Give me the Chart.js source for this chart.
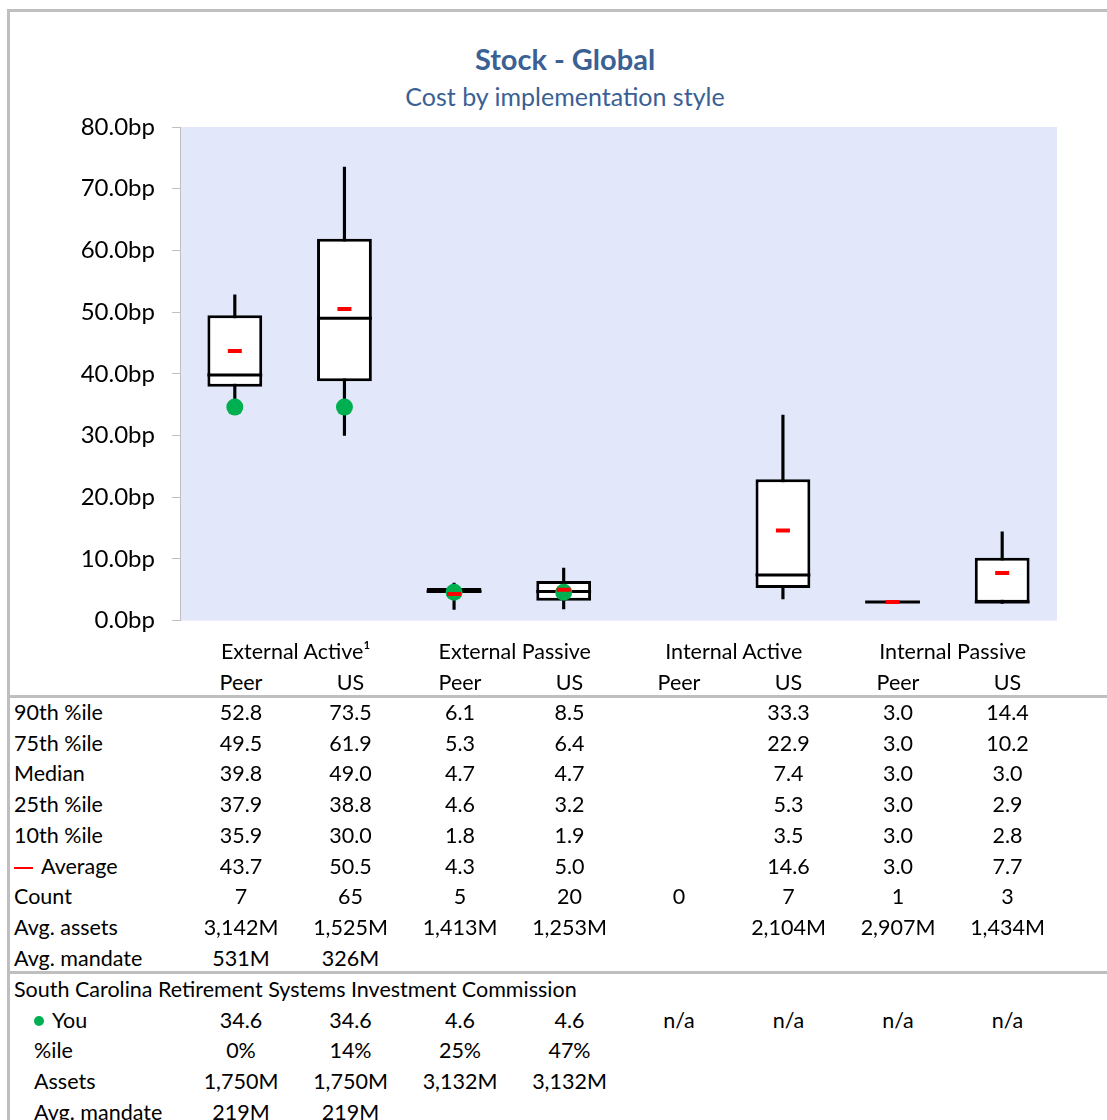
<!DOCTYPE html>
<html>
<head>
<meta charset="utf-8">
<script src="https://cdn.jsdelivr.net/npm/chart.js@4"></script>
<style>
  body { margin: 0; width: 1107px; height: 1120px; overflow: hidden; background: #fff; font-family: Lato, "Noto Sans", sans-serif; color: #000; }
  #frame { position: absolute; left: 7px; top: 9px; width: 1140px; height: 1140px; border-left: 3px solid #bfbfbf; border-top: 3px solid #bfbfbf; }
  #chartWrap { position: absolute; left: 0; top: 0; width: 1107px; height: 652px; }
  #title { position: absolute; left: 315px; width: 500px; top: 42px; text-align: center; font-size: 29px; line-height: 34px; font-weight: bold; color: #3a6094; }
  #subtitle { position: absolute; left: 265px; width: 600px; top: 81px; text-align: center; font-size: 25px; line-height: 30px; color: #3a6094; }
  .t { position: absolute; white-space: nowrap; font-size: 21.5px; line-height: 30px; height: 30px; }
  .hr { position: absolute; left: 10px; width: 1100px; height: 3px; background: #bfbfbf; }
  .dash { display: inline-block; width: 19px; height: 2px; background: #ff0000; vertical-align: middle; margin-right: 8px; }
  .dot { display: inline-block; width: 10px; height: 10px; border-radius: 5px; background: #00b050; vertical-align: middle; margin-right: 8px; position: relative; top: -1px; }
</style>
</head>
<body>
<div id="frame"></div>
<div id="title">Stock - Global</div>
<div id="subtitle">Cost by implementation style</div>
<div id="chartWrap"><canvas id="chart"></canvas></div>
<div class="hr" style="top:695px"></div>
<div class="hr" style="top:971px"></div>
<script>
// categories: peer group / US universe for each implementation style
const groups = ['External Active¹', 'External Passive', 'Internal Active', 'Internal Passive']
const categories = ['Peer', 'US', 'Peer', 'US', 'Peer', 'US', 'Peer', 'US']

const p90 = [52.8, 73.5, 6.1, 8.5, null, 33.3, 3.0, 14.4]
const p75 = [49.5, 61.9, 5.3, 6.4, null, 22.9, 3.0, 10.2]
const median = [39.8, 49.0, 4.7, 4.7, null, 7.4, 3.0, 3.0]
const p25 = [37.9, 38.8, 4.6, 3.2, null, 5.3, 3.0, 2.9]
const p10 = [35.9, 30.0, 1.8, 1.9, null, 3.5, 3.0, 2.8]
const average = [43.7, 50.5, 4.3, 5.0, null, 14.6, 3.0, 7.7]
const you = [34.6, 34.6, 4.6, 4.6, null, null, null, null]

const counts = ['7', '65', '5', '20', '0', '7', '1', '3']
const avgAssets = ['3,142M', '1,525M', '1,413M', '1,253M', '', '2,104M', '2,907M', '1,434M']
const avgMandate = ['531M', '326M', '', '', '', '', '', '']
const youPctile = ['0%', '14%', '25%', '47%', '', '', '', '']
const youAssets = ['1,750M', '1,750M', '3,132M', '3,132M', '', '', '', '']
const youMandate = ['219M', '219M', '', '', '', '', '', '']

const yTicks = [0, 10, 20, 30, 40, 50, 60, 70, 80]

// light blue plot background
const plotBg = {
    id: 'plotBg',
    beforeDraw(chart) {
        const { ctx, chartArea: a } = chart
        ctx.save()
        ctx.fillStyle = '#e2e8fa'
        ctx.fillRect(a.left, a.top, a.right - a.left, a.bottom - a.top)
        ctx.restore()
    }
}

new Chart(document.getElementById('chart'), {
    type: 'bar',
    data: {
        labels: categories,
        datasets: [
            { type: 'line', label: 'Average', data: average, showLine: false, pointStyle: 'line', pointRadius: 7, pointBorderWidth: 4, pointBorderColor: '#ff0000', order: 0 },
            { type: 'line', label: 'You', data: you, showLine: false, pointStyle: 'circle', pointRadius: 8.5, pointBackgroundColor: '#00b050', pointBorderColor: '#00b050', pointBorderWidth: 0, order: 1 },
            { type: 'line', label: 'Median', data: median, showLine: false, pointStyle: 'line', pointRadius: 27.4, pointBorderWidth: 3, pointBorderColor: '#000', order: 2 },
            { label: 'Box', data: p25.map((v, i) => v == null ? null : [v, p75[i]]), backgroundColor: '#fff', borderColor: '#000', borderWidth: 3, borderSkipped: false, barPercentage: 0.5, categoryPercentage: 1, grouped: false, order: 3 },
            { label: 'Whisker', data: p10.map((v, i) => v == null ? null : [v, p90[i]]), backgroundColor: '#000', barThickness: 2.5, grouped: false, order: 4 }
        ]
    },
    options: {
        responsive: true,
        maintainAspectRatio: false,
        animation: false,
        layout: { padding: { left: 0, top: 127, right: 50, bottom: 8 } },
        plugins: { legend: { display: false }, tooltip: { enabled: false } },
        scales: {
            x: { display: false, offset: true },
            y: {
                min: 0, max: 80,
                afterBuildTicks: s => { s.ticks = yTicks.map(v => ({ value: v })) },
                afterFit: s => { s.width = 180 },
                ticks: { color: '#000', padding: 17, font: { family: 'Lato', size: 24 }, callback: v => v.toFixed(1) + 'bp' },
                grid: { drawOnChartArea: false, tickLength: 8, color: '#bfbfbf' },
                border: { color: '#bfbfbf' }
            }
        }
    },
    plugins: [plotBg]
})

// table under the chart
const colX = categories.map((c, i) => 241 + 109.5 * i)

function put(html, x, cy, center) {
    const d = document.createElement('div')
    d.className = 't'
    if (center) {
        d.style.left = (x - 80) + 'px'
        d.style.width = '160px'
        d.style.textAlign = 'center'
    } else {
        d.style.left = x + 'px'
    }
    d.style.top = (cy - 15) + 'px'
    d.innerHTML = html
    document.body.appendChild(d)
}

groups.forEach((g, i) => put(g, (colX[2 * i] + colX[2 * i + 1]) / 2, 651, true))
categories.forEach((c, i) => put(c, colX[i], 682, true))

const fmt = v => v == null ? '' : v.toFixed(1)
const statRows = [
    ['90th %ile', p90.map(fmt)],
    ['75th %ile', p75.map(fmt)],
    ['Median', median.map(fmt)],
    ['25th %ile', p25.map(fmt)],
    ['10th %ile', p10.map(fmt)],
    ['<span class="dash"></span>Average', average.map(fmt)],
    ['Count', counts],
    ['Avg. assets', avgAssets],
    ['Avg. mandate', avgMandate]
]
statRows.forEach((r, k) => {
    const cy = 712 + 30.7 * k
    put(r[0], 14, cy)
    r[1].forEach((v, i) => { if (v) put(v, colX[i], cy, true) })
})

put('South Carolina Retirement Systems Investment Commission', 14, 989)
const youRows = [
    ['<span class="dot"></span>You', you.map(v => v == null ? 'n/a' : v.toFixed(1))],
    ['%ile', youPctile],
    ['Assets', youAssets],
    ['Avg. mandate', youMandate]
]
youRows.forEach((r, k) => {
    const cy = 1019.7 + 30.7 * k
    put(r[0], 34, cy)
    r[1].forEach((v, i) => { if (v) put(v, colX[i], cy, true) })
})
</script>
</body>
</html>
